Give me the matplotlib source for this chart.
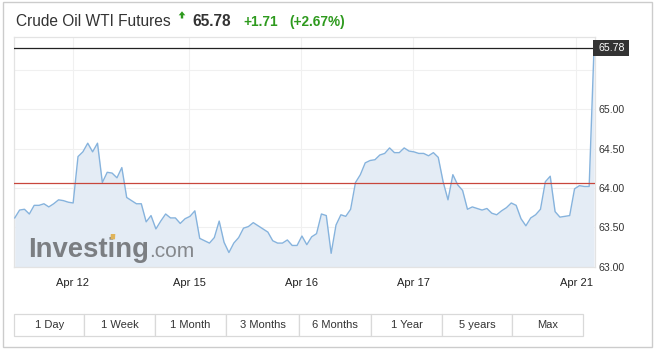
import matplotlib
matplotlib.use("Agg")
import matplotlib.pyplot as plt
from matplotlib.patches import Rectangle, Polygon

plt.rcParams['font.family'] = ['Liberation Sans', 'DejaVu Sans']

# ---------------- data ----------------
prices = [
    63.62, 63.72, 63.73, 63.67, 63.78, 63.78, 63.80, 63.76, 63.80, 63.85,
    63.84, 63.82, 63.81, 64.40, 64.46, 64.57, 64.46, 64.57, 64.07, 64.20,
    64.19, 64.13, 64.26, 63.88, 63.84, 63.80, 63.80, 63.57, 63.65, 63.48,
    63.58, 63.67, 63.62, 63.62, 63.55, 63.61, 63.64, 63.71, 63.36, 63.33,
    63.30, 63.37, 63.58, 63.31, 63.18, 63.30, 63.37, 63.49, 63.51, 63.56,
    63.52, 63.48, 63.44, 63.33, 63.30, 63.30, 63.34, 63.27, 63.27, 63.39,
    63.28, 63.38, 63.42, 63.67, 63.65, 63.17, 63.53, 63.66, 63.64, 63.73,
    64.07, 64.17, 64.32, 64.35, 64.36, 64.42, 64.44, 64.51, 64.45, 64.45,
    64.51, 64.47, 64.46, 64.44, 64.44, 64.41, 64.45, 64.39, 64.08, 63.85,
    64.17, 64.04, 63.97, 63.73, 63.76, 63.74, 63.72, 63.74, 63.68, 63.66,
    63.71, 63.75, 63.81, 63.78, 63.61, 63.52, 63.62, 63.66, 63.73, 64.08,
    64.15, 63.70, 63.63, 63.64, 63.65, 63.99, 64.03, 64.02, 64.02, 65.78,
]
x_idx = list(range(len(prices)))

date_labels = ["Apr 12", "Apr 15", "Apr 16", "Apr 17", "Apr 21"]
date_pos = [11.9, 35.9, 58.9, 81.9, 115.3]

y_ticks = [63.0, 63.5, 64.0, 64.5, 65.0, 65.5]
y_ticklabels = ["63.00", "63.50", "64.00", "64.50", "65.00", ""]

last_price = 65.78
prev_close = 64.07
change = "+1.71"
change_pct = "(+2.67%)"
title = "Crude Oil WTI Futures"

button_labels = ["1 Day", "1 Week", "1 Month", "3 Months", "6 Months",
                 "1 Year", "5 years", "Max"]

# ---------------- layout ----------------
W, H = 657, 354
fig = plt.figure(figsize=(W / 100, H / 100), dpi=100)
fig.patch.set_facecolor("white")


def fx(px):
    return px / W


def fy(py):
    return 1 - py / H


ax_l, ax_r, ax_t, ax_b = 14, 595, 37, 266.7
ax = fig.add_axes([fx(ax_l), fy(ax_b), fx(ax_r - ax_l), (ax_b - ax_t) / H])

ymin, ymax = 63.0, 65.92
ax.set_xlim(-0.15, 119.2)
ax.set_ylim(ymin, ymax)

line_col = "#86b3dd"
fill_col = "#e4ecf5"
ax.fill_between(x_idx, prices, ymin, color=fill_col, lw=0, zorder=1)
ax.plot(x_idx, prices, color=line_col, lw=1.0, zorder=4)

ax.axhline(prev_close, color="#c8463c", lw=0.9, zorder=5)
ax.axhline(last_price, color="#222222", lw=0.9, zorder=5)

ax.set_yticks(y_ticks)
ax.set_yticklabels(y_ticklabels)
ax.yaxis.tick_right()
ax.set_xticks(date_pos)
ax.set_xticklabels(date_labels)
ax.tick_params(axis="y", length=0, pad=2.5, labelsize=7.6, labelcolor="#333333")
ax.tick_params(axis="x", length=0, pad=8, labelsize=8, labelcolor="#222222")
ax.grid(True, color="#f0f0f0", lw=0.8, zorder=0)
ax.set_axisbelow(True)
for s in ax.spines.values():
    s.set_color("#e3e3e3")
    s.set_linewidth(0.9)

# price tag
fig.patches.append(Rectangle((fx(593.3), fy(55.7)), fx(629 - 593.3), (55.7 - 40) / H,
                             transform=fig.transFigure, facecolor="#333333",
                             edgecolor="none", zorder=10))
fig.text(fx(611.2), fy(47.9), f"{last_price:.2f}", color="white", fontsize=7.6,
         ha="center", va="center", zorder=11)

# watermark
ax.text(fx(28.5), fy(256.7), "Investing", transform=fig.transFigure,
        fontsize=19.8, fontweight="bold", color="#7b7e82", ha="left",
        va="baseline", zorder=2)
ax.text(fx(149.5), fy(256.7), ".com", transform=fig.transFigure,
        fontsize=15, color="#85888c", ha="left", va="baseline", zorder=2)
fig.patches.append(Polygon([(fx(110.5), fy(239.3)), (fx(115), fy(239.3)),
                            (fx(115.3), fy(234)), (fx(110.8), fy(234))],
                           closed=True, transform=fig.transFigure,
                           facecolor="#e0b45a", edgecolor="none", zorder=3))

# header
fig.text(fx(15.7), fy(26), title, fontsize=11.2, color="#333333",
         ha="left", va="baseline")
green = "#2e9a1e"
fig.patches.append(Polygon([(fx(182), fy(11.3)), (fx(185.3), fy(15.3)),
                            (fx(183.2), fy(15.3)), (fx(183.2), fy(18.5)),
                            (fx(180.8), fy(18.5)), (fx(180.8), fy(15.3)),
                            (fx(178.7), fy(15.3))],
                           closed=True, transform=fig.transFigure,
                           facecolor=green, edgecolor="none"))
fig.text(fx(192.7), fy(26), f"{last_price:.2f}", fontsize=11.2,
         fontweight="bold", color="#333333", ha="left", va="baseline")
fig.text(fx(243.3), fy(26), change, fontsize=9.8, fontweight="bold",
         color=green, ha="left", va="baseline")
fig.text(fx(289), fy(26), change_pct, fontsize=9.8, fontweight="bold",
         color=green, ha="left", va="baseline")

# outer frame
fig.patches.append(Rectangle((fx(3), fy(347)), fx(652 - 3), (347 - 1.5) / H,
                             transform=fig.transFigure, facecolor="none",
                             edgecolor="#cccccc", lw=1.0))

# buttons
edges = [14.3, 84.3, 155, 226, 299, 371, 442, 512.3, 583.3]
b_top, b_bot = 314.3, 336
for i, lab in enumerate(button_labels):
    x0, x1 = edges[i], edges[i + 1]
    fig.patches.append(Rectangle((fx(x0), fy(b_bot)), fx(x1 - x0), (b_bot - b_top) / H,
                                 transform=fig.transFigure, facecolor="white",
                                 edgecolor="#d9d9d9", lw=0.9))
    fig.text(fx((x0 + x1) / 2), fy(325.2), lab, fontsize=8, color="#333333",
             ha="center", va="center")

fig.savefig("out.png", dpi=100)
